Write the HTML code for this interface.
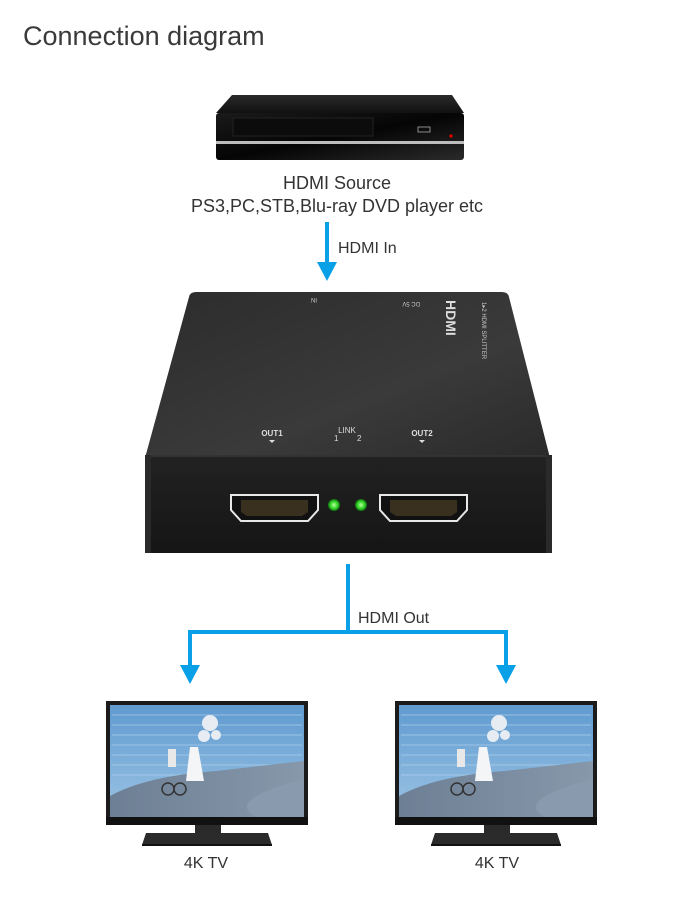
<!DOCTYPE html>
<html><head><meta charset="utf-8"><style>
html,body{margin:0;padding:0;background:#fff}
body{width:680px;height:896px;overflow:hidden;font-family:"Liberation Sans",sans-serif}
</style></head><body>
<svg width="680" height="896" viewBox="0 0 680 896" xmlns="http://www.w3.org/2000/svg" font-family="Liberation Sans, sans-serif">
<defs>
<linearGradient id="stbtop" x1="0" y1="0" x2="0" y2="1"><stop offset="0" stop-color="#2a2a2a"/><stop offset="1" stop-color="#111"/></linearGradient>
<linearGradient id="stbfront" x1="0" y1="0" x2="1" y2="1"><stop offset="0" stop-color="#1a1a1a"/><stop offset="0.5" stop-color="#050505"/><stop offset="1" stop-color="#2a2a2a"/></linearGradient>
<linearGradient id="boxtop" x1="0" y1="0" x2="1" y2="1"><stop offset="0" stop-color="#2c2c2c"/><stop offset="0.6" stop-color="#3a3a3a"/><stop offset="1" stop-color="#2a2a2a"/></linearGradient>
<linearGradient id="boxfront" x1="0" y1="0" x2="0" y2="1"><stop offset="0" stop-color="#222"/><stop offset="1" stop-color="#151515"/></linearGradient>
<linearGradient id="sky" x1="0" y1="0" x2="0" y2="1"><stop offset="0" stop-color="#5f9ad0"/><stop offset="1" stop-color="#9cc4e4"/></linearGradient>
<linearGradient id="road" x1="0" y1="0" x2="1" y2="0"><stop offset="0" stop-color="#6d7f94"/><stop offset="1" stop-color="#8798ab"/></linearGradient>
<radialGradient id="led"><stop offset="0" stop-color="#b8ff9a"/><stop offset="0.6" stop-color="#34d62a"/><stop offset="1" stop-color="#0f6a0f"/></radialGradient>
<g id="tv">
  <rect x="0" y="0" width="202" height="124" fill="#1b1b1b"/>
  <rect x="4" y="4" width="194" height="112" fill="url(#sky)"/>
  <g stroke="#b9d6ee" stroke-width="1" opacity="0.6">
    <line x1="6" y1="14" x2="196" y2="14"/><line x1="6" y1="24" x2="196" y2="24"/><line x1="6" y1="34" x2="196" y2="34"/><line x1="6" y1="44" x2="196" y2="44"/><line x1="6" y1="54" x2="196" y2="54"/><line x1="6" y1="64" x2="196" y2="64"/><line x1="6" y1="74" x2="100" y2="74"/>
  </g>
  <path d="M4 95 Q40 75 110 70 L198 60 L198 116 L4 116 Z" fill="url(#road)"/>
  <path d="M150 116 Q120 100 190 80 L198 78 L198 116 Z" fill="#8a9aae"/>
  <circle cx="104" cy="22" r="8" fill="#e6ecf2"/><circle cx="98" cy="35" r="6" fill="#e6ecf2"/><circle cx="110" cy="34" r="5" fill="#e6ecf2"/>
  <path d="M84 46 L92 46 L98 80 L80 80 Z" fill="#f3f5f7"/>
  <rect x="62" y="48" width="8" height="18" fill="#e8e8e8"/>
  <circle cx="62" cy="88" r="6" fill="none" stroke="#333" stroke-width="1.5"/><circle cx="74" cy="88" r="6" fill="none" stroke="#333" stroke-width="1.5"/>
  <rect x="0" y="116" width="202" height="8" fill="#111"/>
  <rect x="89" y="124" width="26" height="12" fill="#2a2a2a"/>
  <path d="M40 132 L162 132 L166 144 L36 144 Z" fill="#2b2b2b"/>
  <rect x="36" y="143" width="130" height="2" fill="#111"/>
</g>
</defs>

<text x="23" y="45" font-size="27" fill="#3a3a3a">Connection diagram</text>

<!-- STB -->
<path d="M232 95 L452 95 L464 113 L216 113 Z" fill="url(#stbtop)"/>
<rect x="216" y="113" width="248" height="47" rx="3" fill="url(#stbfront)"/>
<rect x="233" y="118" width="140" height="18" fill="#0c0c0c" stroke="#222"/>
<rect x="216" y="141" width="248" height="3" fill="#bdbdbd"/>
<rect x="418" y="127" width="12" height="5" fill="none" stroke="#aaa" stroke-width="0.8"/>
<circle cx="451" cy="136" r="1.6" fill="#e00"/>

<text x="337" y="189" font-size="18" fill="#333" text-anchor="middle">HDMI Source</text>
<text x="337" y="212" font-size="18" fill="#333" text-anchor="middle">PS3,PC,STB,Blu-ray DVD player etc</text>

<!-- HDMI In arrow -->
<rect x="325" y="222" width="4" height="42" fill="#0aa0e8"/>
<path d="M317 262 L337 262 L327 281 Z" fill="#0aa0e8"/>
<text x="338" y="253" font-size="16" fill="#333">HDMI In</text>

<!-- Splitter -->
<path d="M196 292 L502 292 Q508 292 509 297 L550 458 L145 458 L189 297 Q190 292 196 292 Z" fill="url(#boxtop)"/>
<rect x="145" y="455" width="407" height="98" fill="url(#boxfront)"/>
<rect x="145" y="455" width="407" height="2" fill="#333"/>
<rect x="145" y="455" width="6" height="98" fill="#2a2a2a"/>
<rect x="546" y="455" width="6" height="98" fill="#2a2a2a"/>
<text x="0" y="0" font-size="6" fill="#ccc" transform="translate(317,298) rotate(180)">IN</text>
<text x="0" y="0" font-size="6" fill="#ccc" transform="translate(420,302) rotate(180)">DC 5V</text>
<text x="0" y="0" font-size="14" font-weight="bold" fill="#ddd" transform="translate(446,300) rotate(90)">HDMI</text>
<text x="0" y="0" font-size="6" fill="#ccc" transform="translate(482,302) rotate(90)">1▸2 HDMI SPLITTER</text>
<text x="272" y="436" font-size="8" font-weight="bold" fill="#ddd" text-anchor="middle">OUT1</text>
<text x="422" y="436" font-size="8" font-weight="bold" fill="#ddd" text-anchor="middle">OUT2</text>
<text x="347" y="433" font-size="8" fill="#ddd" text-anchor="middle">LINK</text>
<text x="334" y="441" font-size="8" fill="#ddd">1</text>
<text x="357" y="441" font-size="8" fill="#ddd">2</text>
<path d="M269 440 L275 440 L272 443 Z" fill="#ddd"/>
<path d="M419 440 L425 440 L422 443 Z" fill="#ddd"/>
<path d="M231 495 L318 495 L318 510 L308 521 L241 521 L231 510 Z" fill="#111" stroke="#e8e8e8" stroke-width="2"/>
<path d="M241 500 L308 500 L308 512 L302 516 L247 516 L241 512 Z" fill="#3a3020"/>
<path d="M380 495 L467 495 L467 510 L457 521 L390 521 L380 510 Z" fill="#111" stroke="#e8e8e8" stroke-width="2"/>
<path d="M390 500 L457 500 L457 512 L451 516 L396 516 L390 512 Z" fill="#3a3020"/>
<circle cx="334" cy="505" r="6" fill="url(#led)"/>
<circle cx="361" cy="505" r="6" fill="url(#led)"/>

<!-- HDMI Out -->
<rect x="346" y="564" width="4" height="70" fill="#0aa0e8"/>
<rect x="188" y="630" width="320" height="4" fill="#0aa0e8"/>
<rect x="188" y="630" width="4" height="38" fill="#0aa0e8"/>
<rect x="504" y="630" width="4" height="38" fill="#0aa0e8"/>
<path d="M180 665 L200 665 L190 684 Z" fill="#0aa0e8"/>
<path d="M496 665 L516 665 L506 684 Z" fill="#0aa0e8"/>
<text x="358" y="623" font-size="16" fill="#333">HDMI Out</text>

<!-- TVs -->
<use href="#tv" x="106" y="701"/>
<use href="#tv" x="395" y="701"/>
<text x="206" y="868" font-size="16" fill="#333" text-anchor="middle">4K TV</text>
<text x="497" y="868" font-size="16" fill="#333" text-anchor="middle">4K TV</text>
</svg>
</body></html>
